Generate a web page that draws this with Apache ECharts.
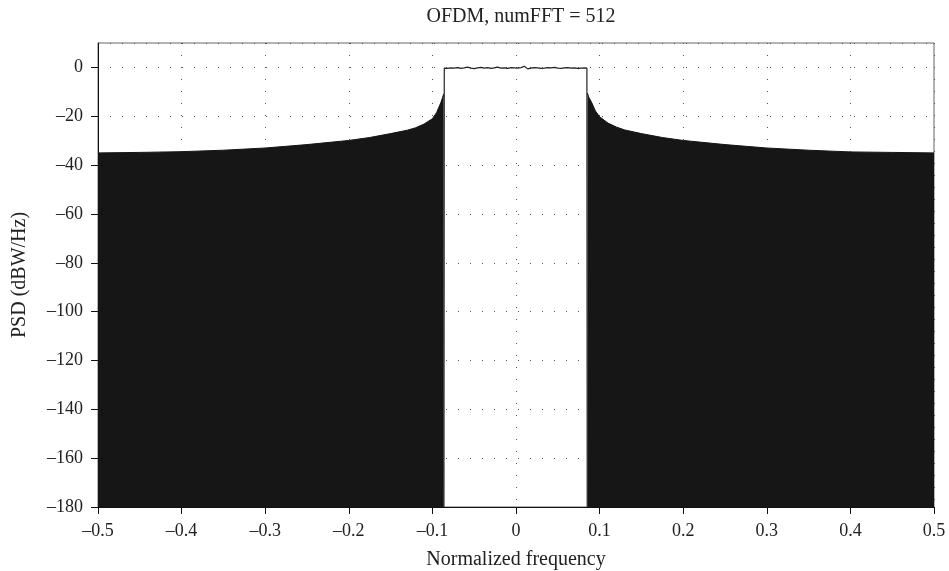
<!DOCTYPE html>
<html>
<head>
<meta charset="utf-8">
<script src="https://cdn.jsdelivr.net/npm/echarts@6/dist/echarts.min.js"></script>
<style>html,body{margin:0;padding:0;background:#fff}#c{width:949px;height:571px}</style>
</head>
<body>
<div id="c"></div>
<script>
var titleText = 'OFDM, numFFT = 512';
var xName = 'Normalized frequency';
var yName = 'PSD (dBW/Hz)';
var xTicks = [-0.5, -0.4, -0.3, -0.2, -0.1, 0, 0.1, 0.2, 0.3, 0.4, 0.5];
var yTicks = [-180, -160, -140, -120, -100, -80, -60, -40, -20, 0];

var leftFreq = [-0.5, -0.45, -0.4, -0.35, -0.3, -0.25, -0.2, -0.175, -0.15, -0.13, -0.12, -0.11, -0.1, -0.095, -0.09, -0.088, -0.0865];
var leftPsd  = [-35.0, -34.8, -34.5, -33.9, -33.0, -31.6, -29.9, -28.7, -27.1, -25.7, -24.7, -23.2, -21.0, -18.5, -14.5, -12.5, -10.8];

var rightFreq = [0.0855, 0.087, 0.09, 0.095, 0.1, 0.11, 0.12, 0.13, 0.15, 0.175, 0.2, 0.25, 0.3, 0.35, 0.4, 0.45, 0.5];
var rightPsd  = [-10.5, -12.2, -14.0, -17.8, -20.2, -22.8, -24.4, -25.6, -27.1, -28.7, -29.9, -31.6, -33.0, -33.9, -34.6, -34.8, -35.0];

var bandFreq = [-0.0862, -0.0858, -0.082, -0.078, -0.074, -0.070, -0.066, -0.062, -0.058, -0.054, -0.050, -0.046, -0.042, -0.038, -0.034, -0.030, -0.026, -0.022, -0.018, -0.014, -0.010, -0.006, -0.002, 0.002, 0.006, 0.010, 0.014, 0.018, 0.022, 0.026, 0.030, 0.034, 0.038, 0.042, 0.046, 0.050, 0.054, 0.058, 0.062, 0.066, 0.070, 0.074, 0.078, 0.082, 0.0848, 0.0852];
var bandPsd  = [-180, -0.3, -0.4, -0.2, -0.3, -0.1, -0.4, -0.2, 0.1, -0.3, -0.5, -0.2, 0.0, -0.3, -0.1, -0.4, -0.2, 0.1, -0.3, -0.2, -0.4, -0.1, -0.2, -0.3, -0.1, 0.5, -0.6, -0.3, -0.1, -0.2, -0.4, -0.3, -0.1, -0.2, 0.0, -0.3, -0.4, -0.2, -0.1, -0.3, -0.2, -0.4, -0.3, -0.2, -0.3, -180];

function pairs(xs, ys) { return xs.map(function (x, i) { return [x, ys[i]]; }); }
function fmt(v) {
  if (Math.abs(v) < 1e-9) return '0';
  var s = (Math.abs(v) >= 1 ? String(Math.round(v)) : v.toFixed(1));
  return s.replace('-', '\u2013');
}

var serif = '"Liberation Serif", "DejaVu Serif", serif';
var chart = echarts.init(document.getElementById('c'), null, { renderer: 'canvas' });
chart.setOption({
  animation: false,
  backgroundColor: '#fff',
  title: {
    text: titleText, left: 516, top: 2, textAlign: 'center',
    textStyle: { fontFamily: serif, fontSize: 20, fontWeight: 'normal', color: '#222' }
  },
  grid: { left: 98, right: 15, top: 43, bottom: 64, outerBoundsMode: 'none', containLabel: false,
    show: true, borderColor: '#666', borderWidth: 1, backgroundColor: 'transparent' },
  xAxis: {
    type: 'value', min: -0.5, max: 0.5, interval: 0.1,
    name: xName, nameLocation: 'middle', nameGap: 43,
    nameTextStyle: { fontFamily: serif, fontSize: 20, color: '#222' },
    axisLine: { show: true, onZero: false, lineStyle: { color: '#111', width: 1 } },
    axisTick: { show: true, length: 7, lineStyle: { color: '#111' } },
    axisLabel: { fontFamily: serif, fontSize: 18, color: '#222', margin: 15, formatter: fmt },
    splitLine: { show: true, lineStyle: { color: '#555', width: 1, type: [1, 11] } }
  },
  yAxis: {
    type: 'value', min: -180, max: 10, interval: 20,
    name: yName, nameLocation: 'middle', nameGap: 68, nameRotate: 90,
    nameTextStyle: { fontFamily: serif, fontSize: 20, color: '#222' },
    axisLine: { show: true, onZero: false, lineStyle: { color: '#111', width: 1 } },
    axisTick: { show: true, length: 7, lineStyle: { color: '#111' } },
    axisLabel: { fontFamily: serif, fontSize: 18, color: '#222', margin: 15, showMaxLabel: false,
      formatter: function (v) { return yTicks.indexOf(v) >= 0 ? fmt(v) : ''; } },
    splitLine: { show: true, lineStyle: { color: '#555', width: 1, type: [1, 11] } }
  },
  series: [
    { type: 'line', data: pairs(leftFreq, leftPsd), showSymbol: false, symbol: 'none',
      lineStyle: { color: '#151515', width: 1 }, areaStyle: { color: '#161616', opacity: 1, origin: 'start' } },
    { type: 'line', data: pairs(rightFreq, rightPsd), showSymbol: false, symbol: 'none',
      lineStyle: { color: '#151515', width: 1 }, areaStyle: { color: '#161616', opacity: 1, origin: 'start' } },
    { type: 'line', data: pairs(bandFreq, bandPsd), showSymbol: false, symbol: 'none',
      lineStyle: { color: '#222', width: 1.2 } }
  ]
});
</script>
</body>
</html>
